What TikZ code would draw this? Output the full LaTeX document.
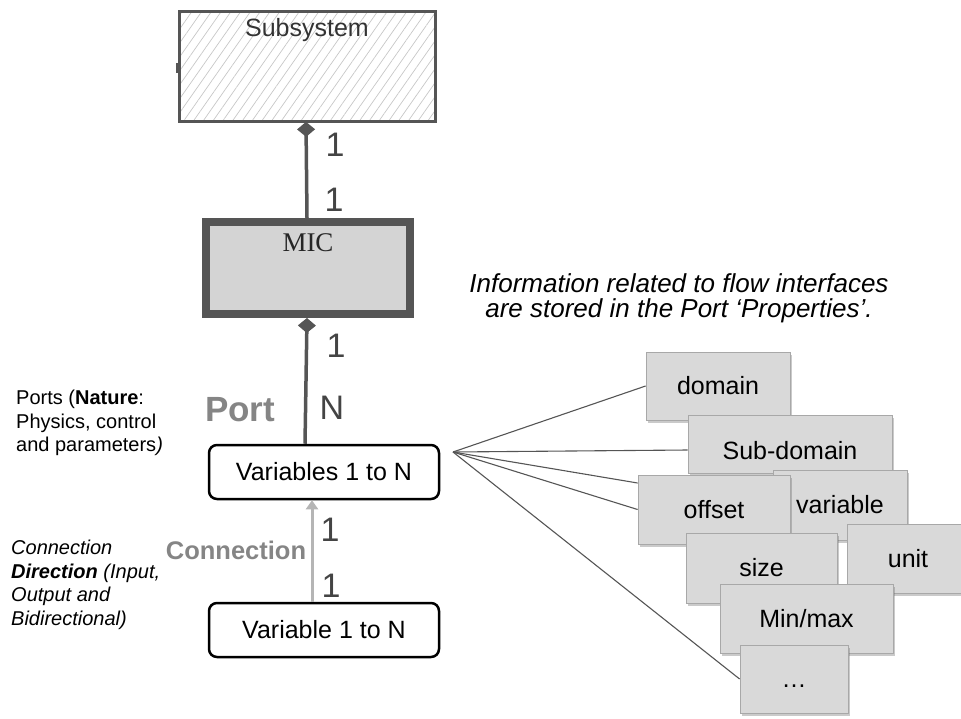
\documentclass[tikz,border=0pt]{standalone}
\usepackage{fontspec}
\setmainfont{Liberation Sans}
\newfontfamily\myserif{Liberation Serif}
\usetikzlibrary{arrows.meta,patterns.meta,shadows}
\newcommand\myfs[2]{\fontsize{#1}{#2}\selectfont}
\definecolor{dgray}{HTML}{555555}
\definecolor{lblgray}{HTML}{444444}
\definecolor{micfill}{HTML}{D4D4D4}
\definecolor{propfill}{HTML}{D9D9D9}
\definecolor{propedge}{HTML}{A8A8A8}
\definecolor{conngray}{HTML}{B5B5B5}
\definecolor{portgray}{HTML}{858585}
\tikzset{
  subbox/.style={draw=dgray, line width=3pt, minimum width=256pt, minimum height=110pt,
    pattern={Lines[angle=55,distance=8pt,line width=0.7pt]}, pattern color=black!22, inner sep=0pt},
  micbox/.style={draw=dgray, fill=micfill, line width=8pt, minimum width=204pt, minimum height=92pt, inner sep=0pt},
  varbox/.style={draw=black, line width=2.5pt, rounded corners=8pt, minimum width=230pt, minimum height=54pt,
    inner sep=0pt, font={\myfs{25}{28}}},
  prop/.style={draw=propedge, fill=propfill, line width=0.8pt, inner sep=0pt, font={\myfs{25}{28}},
    drop shadow={shadow xshift=1.5pt, shadow yshift=-2.5pt, opacity=0.35, fill=black!60}},
  assoc/.style={draw=dgray, line width=3.5pt, {Diamond[length=15pt,width=18pt]}-},
  conn/.style={draw=conngray, line width=3pt, -{Triangle[length=9pt,width=12pt]}},
  mult/.style={text=lblgray, font={\myfs{34}{36}}, inner sep=0pt},
  fanline/.style={draw=dgray, line width=1.1pt},
  note/.style={align=left, inner sep=0pt, font={\myfs{20}{23.5}}, anchor=north west}
}
\begin{document}
\begin{tikzpicture}[x=1pt,y=-1pt]
\useasboundingbox (0,0) rectangle (961,718);

% Subsystem
\node[subbox] (sub) at (307,66.5) {};
\node[text=black!80, font={\myfs{25}{28}}, inner sep=0pt] (subtitle) at (307,30) {Subsystem};
\fill[dgray] (175.5,63) rectangle (180,73);

% MIC
\node[micbox] (mic) at (308,268) {};
\node[font={\myserif\myfs{27}{30}}, text=black!85, inner sep=0pt] (mictitle) at (308,243) {MIC};

% Variables boxes
\node[varbox] (vars) at (324,472) {Variables 1 to N};
\node[varbox] (var) at (324,630) {Variable 1 to N};

% connectors
\draw[assoc] ([xshift=-1pt]sub.south) -- ([xshift=-1pt]mic.north);
\draw[assoc] ([xshift=-1pt]mic.south) -- ([xshift=-19pt]vars.north);
\draw[conn] ([xshift=-12pt]var.north) -- ([xshift=-12pt]vars.south);

% multiplicities
\node[mult] (m1) at (335,145) {1};
\node[mult] (m2) at (334,200) {1};
\node[mult] (m3) at (336,346) {1};
\node[mult] (m4) at (332,408) {N};
\node[mult] (m5) at (330,530) {1};
\node[mult] (m6) at (331,586) {1};

\node[text=portgray, font={\bfseries\myfs{35}{38}}, inner sep=0pt] (portlbl) at (240,410) {Port};
\node[text=portgray, font={\bfseries\myfs{25.5}{28}}, inner sep=0pt] (connlbl) at (236,550) {Connection};

% notes
\node[note] (portnote) at (16,390) {Ports (\textbf{Nature}:\\Physics, control\\and parameters\textit{)}};
\node[note, font={\itshape\myfs{20}{23.5}}] (connnote) at (11,540) {Connection\\\textbf{Direction} (Input,\\Output and\\Bidirectional)};
\node[align=center, inner sep=0pt, font={\itshape\myfs{26}{25}}, anchor=north] (info) at (679,273)
  {Information related to flow interfaces\\are stored in the Port ‘Properties’.};

% property boxes
\node[prop, minimum width=144pt, minimum height=68pt] (domain) at (718,386) {domain};
\node[prop, minimum width=204pt, minimum height=58pt] (subdom) at (790,444) {\raisebox{-7pt}[\height][\depth]{Sub-domain}};
\node[prop, minimum width=134pt, minimum height=70pt] (variable) at (840,505) {variable};
\node[prop, minimum width=152pt, minimum height=69pt] (offset) at (714,509.5) {offset};
\node[prop, minimum width=122pt, minimum height=69pt] (unit) at (908,558.5) {unit};
\node[prop, minimum width=151pt, minimum height=70pt] (size) at (761.5,568) {size};
\node[prop, minimum width=173pt, minimum height=69pt] (minmax) at (806.5,618.5) {Min/max};
\node[prop, minimum width=108pt, minimum height=68pt] (dots) at (794,679) {\raisebox{-7pt}[\height][\depth]{…}};

% fan
\coordinate (fan) at (453,452);
\draw[fanline] (fan) -- (domain.west);
\draw[fanline] (fan) -- ([yshift=-6pt]subdom.west);
\draw[fanline] (fan) -- ([yshift=26.5pt]offset.west);
\draw[fanline] (fan) -- (offset.west);
\draw[fanline] (fan) -- (dots.west);
\end{tikzpicture}
\end{document}
